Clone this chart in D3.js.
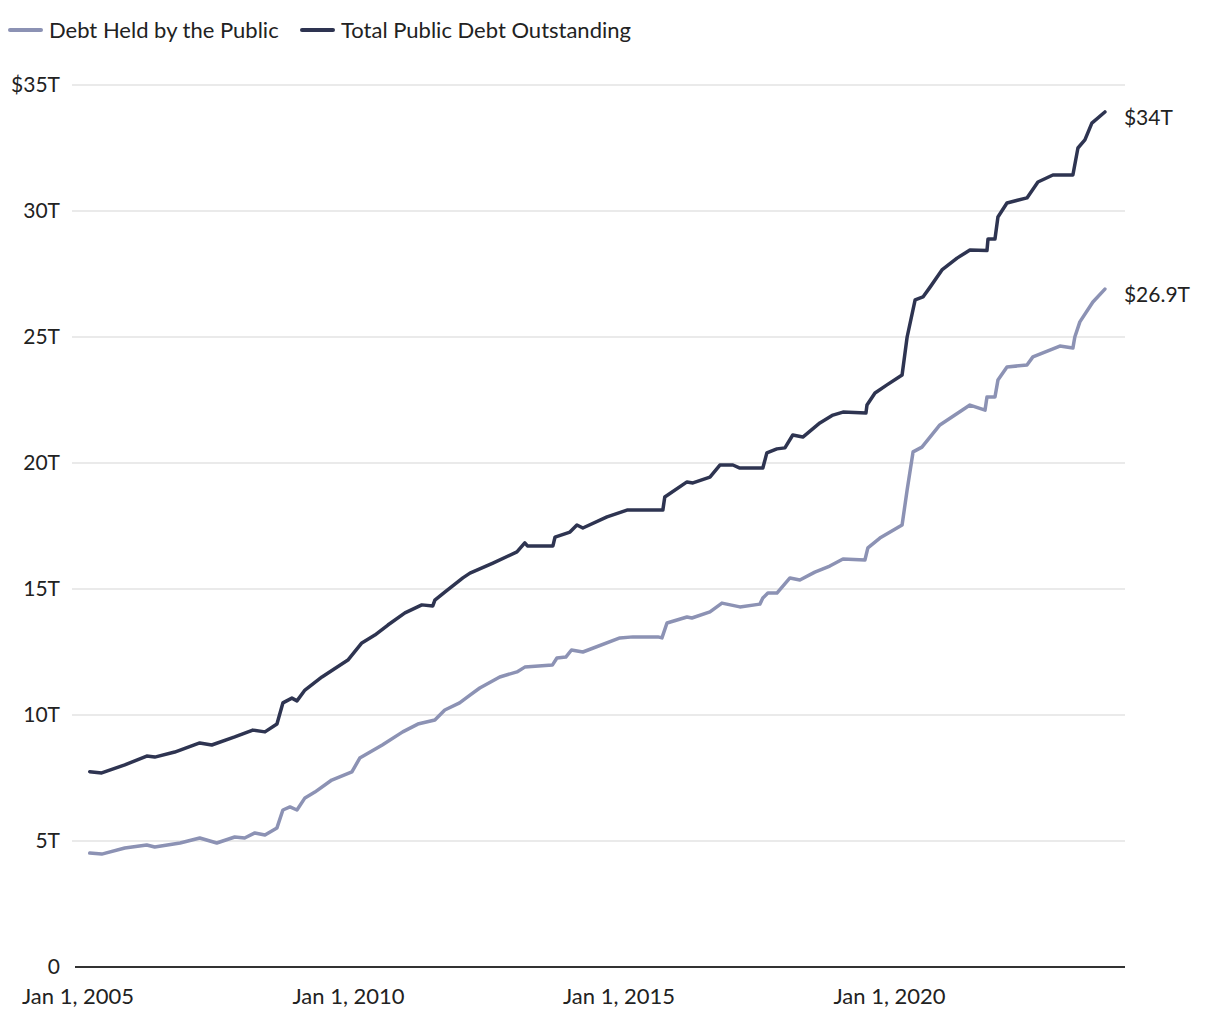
<!DOCTYPE html>
<html>
<head>
<meta charset="utf-8">
<script src="https://cdn.jsdelivr.net/npm/d3@7"></script>
<style>
  body { margin: 0; background: #fff; }
  svg { font-family: "Source Sans Pro", Lato, "Noto Sans", sans-serif; }
</style>
</head>
<body>
<svg id="chart" width="1220" height="1020"></svg>
<script>
// values, in trillions of dollars
const publicDates = ["2005-03-21","2005-06-10","2005-11-13","2006-04-10","2006-06-03","2006-11-21","2007-04-03","2007-07-27","2007-11-25","2008-01-31","2008-04-09","2008-06-16","2008-09-05","2008-10-15","2008-12-02","2009-01-18","2009-03-13","2009-05-19","2009-09-10","2010-01-24","2010-03-18","2010-08-17","2011-01-02","2011-04-14","2011-08-07","2011-10-13","2012-01-21","2012-03-31","2012-06-05","2012-10-18","2013-02-11","2013-04-05","2013-10-08","2013-11-08","2014-01-07","2014-02-14","2014-05-02","2015-01-07","2015-04-05","2015-09-21","2015-10-18","2015-11-21","2016-04-04","2016-05-07","2016-09-06","2016-11-26","2017-03-27","2017-08-09","2017-08-29","2017-10-02","2017-12-02","2018-02-28","2018-05-06","2018-08-15","2018-11-24","2019-02-21","2019-07-19","2019-08-08","2019-10-28","2020-03-26","2020-04-29","2020-06-08","2020-08-07","2020-12-06","2021-06-27","2021-10-07","2021-10-20","2021-12-13","2022-01-02","2022-03-04","2022-07-17","2022-08-26","2023-02-24","2023-05-23","2023-06-05","2023-07-09","2023-10-05","2023-12-25"];
const publicValues = [4.52,4.48,4.72,4.84,4.76,4.92,5.12,4.92,5.16,5.12,5.32,5.24,5.52,6.23,6.35,6.23,6.71,6.94,7.42,7.74,8.29,8.81,9.33,9.64,9.80,10.2,10.48,10.79,11.07,11.51,11.71,11.90,11.98,12.26,12.30,12.58,12.50,13.06,13.10,13.10,13.06,13.65,13.89,13.85,14.09,14.44,14.29,14.40,14.64,14.84,14.84,15.44,15.36,15.67,15.91,16.19,16.15,16.63,17.02,17.54,18.93,20.44,20.63,21.51,22.30,22.10,22.62,22.62,23.29,23.81,23.89,24.21,24.64,24.56,25.0,25.6,26.39,26.90];

const totalDates = ["2005-03-21","2005-06-10","2005-11-13","2006-04-10","2006-06-03","2006-10-16","2007-04-03","2007-06-23","2007-11-25","2008-03-26","2008-06-16","2008-09-05","2008-10-15","2008-12-15","2009-01-18","2009-03-13","2009-07-06","2009-12-28","2010-04-01","2010-06-28","2010-09-24","2011-01-17","2011-05-11","2011-07-24","2011-08-07","2011-10-13","2012-02-12","2012-03-31","2012-09-02","2013-02-11","2013-04-05","2013-04-23","2013-10-12","2013-10-26","2014-02-04","2014-03-23","2014-05-02","2014-10-12","2015-02-24","2015-10-24","2015-11-06","2016-04-04","2016-05-14","2016-09-06","2016-11-12","2017-02-08","2017-03-27","2017-08-29","2017-09-25","2017-12-02","2018-01-25","2018-03-19","2018-05-26","2018-09-18","2018-12-15","2019-02-21","2019-07-26","2019-08-02","2019-09-25","2019-12-15","2020-03-26","2020-04-29","2020-06-22","2020-08-14","2020-10-01","2020-12-20","2021-04-01","2021-06-27","2021-10-20","2021-10-27","2021-12-13","2022-01-02","2022-03-04","2022-07-17","2022-09-29","2023-01-08","2023-05-23","2023-06-26","2023-08-12","2023-09-28","2023-12-25"];
const totalValues = [7.75,7.70,8.02,8.37,8.33,8.53,8.89,8.81,9.13,9.40,9.33,9.64,10.48,10.67,10.56,10.99,11.51,12.18,12.86,13.17,13.57,14.05,14.37,14.33,14.56,14.88,15.44,15.63,16.03,16.47,16.83,16.71,16.71,17.06,17.26,17.54,17.42,17.86,18.13,18.13,18.65,19.25,19.21,19.44,19.92,19.92,19.80,19.80,20.40,20.56,20.60,21.11,21.03,21.59,21.90,22.02,21.98,22.30,22.78,23.10,23.49,25.0,26.47,26.59,26.98,27.66,28.13,28.45,28.43,28.89,28.89,29.76,30.32,30.52,31.15,31.43,31.43,32.5,32.82,33.49,33.93];

const seriesNames = ["Debt Held by the Public", "Total Public Debt Outstanding"];
const seriesColors = ["#8c92b4", "#2e3451"];
const endLabels = ["$26.9T", "$34T"];
const yTicks = [0, 5, 10, 15, 20, 25, 30, 35];
const xTicks = ["2005-01-01", "2010-01-01", "2015-01-01", "2020-01-01"];

const parse = d3.utcParse("%Y-%m-%d");
const series = [
  publicDates.map((d, i) => ({ date: parse(d), value: publicValues[i] })),
  totalDates.map((d, i) => ({ date: parse(d), value: totalValues[i] }))
];

const svg = d3.select("#chart");
const left = 72, right = 1125;

const x = d3.scaleUtc()
  .domain([parse("2005-01-01"), parse("2020-01-01")])
  .range([78, 889.5]);
const y = d3.scaleLinear().domain([0, 35]).range([967, 85]);

// grid + y labels
svg.append("g").selectAll("line")
  .data(yTicks.filter(t => t > 0))
  .join("line")
  .attr("x1", left).attr("x2", right)
  .attr("y1", d => y(d)).attr("y2", d => y(d))
  .attr("stroke", "#e3e3e3").attr("stroke-width", 1.5);

svg.append("g").selectAll("text")
  .data(yTicks)
  .join("text")
  .attr("x", 60).attr("y", d => y(d))
  .attr("dy", "0.35em")
  .attr("text-anchor", "end")
  .attr("font-size", 21).attr("fill", "#222")
  .text(d => d === 0 ? "0" : (d === 35 ? "$" : "") + d + "T");

// x axis labels
svg.append("g").selectAll("text")
  .data(xTicks)
  .join("text")
  .attr("x", d => x(parse(d))).attr("y", 996)
  .attr("dy", "0.35em")
  .attr("text-anchor", "middle")
  .attr("font-size", 22).attr("fill", "#222")
  .text(d => d3.utcFormat("%b %-d, %Y")(parse(d)));

// lines
const line = d3.line().x(d => x(d.date)).y(d => y(d.value));
svg.append("g").selectAll("path")
  .data(series)
  .join("path")
  .attr("d", line)
  .attr("fill", "none")
  .attr("stroke", (d, i) => seriesColors[i])
  .attr("stroke-width", 3.5)
  .attr("stroke-linejoin", "round")
  .attr("stroke-linecap", "round");

// baseline
svg.append("line")
  .attr("x1", 75).attr("x2", right)
  .attr("y1", y(0)).attr("y2", y(0))
  .attr("stroke", "#333").attr("stroke-width", 2);

// end labels
svg.append("g").selectAll("text")
  .data(series)
  .join("text")
  .attr("x", d => x(d[d.length - 1].date) + 19)
  .attr("y", d => y(d[d.length - 1].value) + 6)
  .attr("dy", "0.35em")
  .attr("font-size", 21).attr("fill", "#222")
  .text((d, i) => endLabels[i]);

// legend
const legendX = [10, 302];
const lg = svg.append("g").selectAll("g")
  .data(seriesNames)
  .join("g")
  .attr("transform", (d, i) => `translate(${legendX[i]},30)`);
lg.append("line")
  .attr("x1", 0).attr("x2", 31)
  .attr("stroke", (d, i) => seriesColors[i])
  .attr("stroke-width", 4).attr("stroke-linecap", "round");
lg.append("text")
  .attr("x", 39).attr("dy", "0.35em")
  .attr("font-size", 22).attr("fill", "#222")
  .text(d => d);
</script>
</body>
</html>
